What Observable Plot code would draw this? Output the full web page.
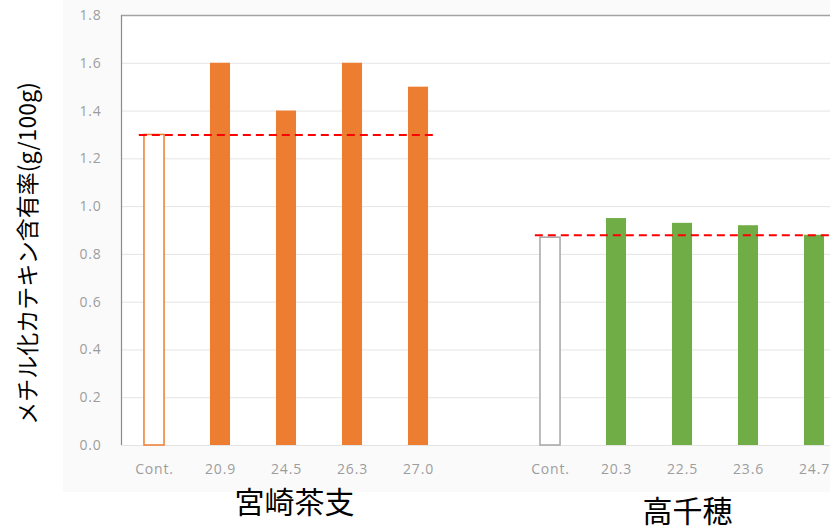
<!DOCTYPE html>
<html>
<head>
<meta charset="utf-8">
<script src="https://cdn.jsdelivr.net/npm/d3@7"></script>
<script src="https://cdn.jsdelivr.net/npm/@observablehq/plot@0.6"></script>
<style>
  html, body { margin: 0; padding: 0; background: #ffffff; }
  #wrap { position: relative; width: 830px; height: 526px; overflow: hidden; }
  #panel { position: absolute; left: 63px; top: 0; width: 767px; height: 492px; background: #fafafa; }
  #chart { position: absolute; left: 0; top: 0; }
  #chart .tick-label text { letter-spacing: 0.8px; }
</style>
</head>
<body>
<div id="wrap"><div id="panel"></div><div id="chart"></div></div>
<script>
// Methylated catechin content by cultivar and treatment
const groups = ["宮崎茶支", "高千穂"];
const miyazakiLabels = ["Cont.", "20.9", "24.5", "26.3", "27.0"];
const miyazakiValues = [1.30, 1.60, 1.40, 1.60, 1.50];
const takachihoLabels = ["Cont.", "20.3", "22.5", "23.6", "24.7"];
const takachihoValues = [0.87, 0.95, 0.93, 0.92, 0.88];
// control level of each cultivar, drawn as a dashed reference line
const controlLevels = [1.30, 0.88];
const yTicks = [0, 0.2, 0.4, 0.6, 0.8, 1.0, 1.2, 1.4, 1.6, 1.8];
const yTitle = "メチル化カテキン含有率(g/100g)";

const fills = ["#ED7D31", "#70AD47"];
const controlStrokes = ["#ED7D31", "#A5A5A5"];

// one slot per bar, with an empty slot between the two cultivars
const slotsPerGroup = miyazakiLabels.length + 1;
const bars = [];
[[miyazakiLabels, miyazakiValues], [takachihoLabels, takachihoValues]].forEach(([labels, values], g) => {
  labels.forEach((label, i) => {
    bars.push({group: g, label, value: values[i], pos: g * slotsPerGroup + i, control: i === 0});
  });
});
const groupRows = groups.map((name, g) => ({
  name,
  g,
  center: g * slotsPerGroup + (miyazakiLabels.length - 1) / 2,
  first: g * slotsPerGroup,
  last: g * slotsPerGroup + miyazakiLabels.length - 1,
  level: controlLevels[g]
}));
const half = 0.152;

const font = "'Open Sans', 'Noto Sans CJK JP', sans-serif";
const cjk = "'Noto Sans CJK JP', sans-serif";

const chart = Plot.plot({
  width: 830,
  height: 526,
  marginLeft: 121,
  marginRight: 0,
  marginTop: 15,
  marginBottom: 81,
  style: {background: "transparent", fontFamily: font},
  x: {type: "linear", domain: [-0.5, 2 * slotsPerGroup - 1.5], range: [121, 847], axis: null},
  y: {domain: [0, 1.8], axis: null, label: null},
  marks: [
    Plot.frame({fill: "white", stroke: null}),
    Plot.gridY(yTicks.filter(d => d < 1.8), {stroke: "#e4e4e4", strokeOpacity: 1}),
    Plot.ruleY([1.8], {stroke: "#a2a2a2", strokeWidth: 1.6}),
    Plot.ruleX([-0.5], {stroke: "#8a8a8a", strokeWidth: 1.2}),
    Plot.axisY(yTicks, {
      tickFormat: d3.format(".1f"), tickSize: 0, tickPadding: 20,
      fill: "#9d9d9d", fontSize: 14, label: null, className: "tick-label"
    }),
    Plot.axisX(bars.map(d => d.pos), {
      tickFormat: (d, i) => bars[i].label, tickSize: 0, tickPadding: 19,
      fill: "#9d9d9d", fontSize: 14, label: null, className: "tick-label"
    }),
    // filled treatment bars
    Plot.rectY(bars.filter(d => !d.control), {
      x1: d => d.pos - half, x2: d => d.pos + half, y: "value",
      fill: d => fills[d.group]
    }),
    // hollow control bars
    Plot.rectY(bars.filter(d => d.control), {
      x1: d => d.pos - half, x2: d => d.pos + half, y: "value",
      fill: "white", stroke: d => controlStrokes[d.group], strokeWidth: 1.5
    }),
    // dashed control level across each cultivar
    Plot.ruleY(groupRows, {
      y: "level",
      x1: d => d.first - 0.23,
      x2: d => d.g === groups.length - 1 ? d.last + 1.6 : d.last + 0.3,
      stroke: "#ff0000", strokeWidth: 2, strokeDasharray: "8,5"
    }),
    // cultivar names under the axis
    Plot.text(groupRows.filter(d => d.g === 0), {
      x: "center", text: "name", frameAnchor: "bottom", lineAnchor: "middle", dy: 58, dx: 8,
      fontSize: 30, fill: "#000", fontFamily: cjk
    }),
    Plot.text(groupRows.filter(d => d.g === 1), {
      x: "center", text: "name", frameAnchor: "bottom", lineAnchor: "middle", dy: 67, dx: 5,
      fontSize: 30, fill: "#000", fontFamily: cjk
    }),
    // y-axis title
    Plot.text([yTitle], {
      frameAnchor: "left", textAnchor: "middle", lineAnchor: "middle", rotate: -90, dx: -93, dy: 23,
      fontSize: 23, fill: "#000", fontFamily: cjk
    })
  ]
});
document.getElementById("chart").appendChild(chart);
</script>
</body>
</html>
